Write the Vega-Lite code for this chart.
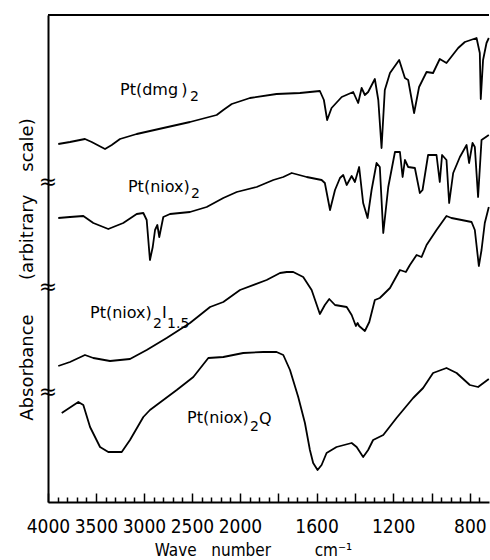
{
  "$schema": "https://vega.github.io/schema/vega-lite/v6.json",
  "autosize": {"type": "none"},
  "width": 441,
  "height": 487,
  "padding": {"left": 48, "top": 15, "right": 1, "bottom": 58},
  "background": "white",
  "config": {
    "view": {"stroke": null},
    "axis": {"grid": false, "domainColor": "black", "domainWidth": 2, "titleFontWeight": "normal", "titleColor": "black", "labelColor": "black", "tickColor": "black"},
    "axisX": {
      "tickWidth": 1.5, "tickCount": 100,
      "labelFont": "Liberation Sans Narrow, DejaVu Sans Condensed, DejaVu Sans",
      "labelFontSize": 19, "labelPadding": 24,
      "labelBaseline": "top", "labelFlush": false, "labelOverlap": false, "labelBound": false,
      "titleFont": "DejaVu Sans Condensed, DejaVu Sans", "titleFontSize": 17,
      "titleX": 205, "titleY": 40, "titleBaseline": "top", "titleAlign": "center"
    },
    "axisY": {
      "ticks": false, "labels": false,
      "titleFont": "DejaVu Sans", "titleFontSize": 18,
      "titlePadding": 12, "titleY": 254, "titleAlign": "center"
    }
  },
  "datasets": {
    "spectra": [
      {"s":"dmg","wn":3893,"v":3.58},{"s":"dmg","wn":3771,"v":3.60},{"s":"dmg","wn":3615,"v":3.63},{"s":"dmg","wn":3545,"v":3.60},{"s":"dmg","wn":3406,"v":3.53},{"s":"dmg","wn":3336,"v":3.57},{"s":"dmg","wn":3250,"v":3.63},{"s":"dmg","wn":3076,"v":3.68},{"s":"dmg","wn":2799,"v":3.74},{"s":"dmg","wn":2521,"v":3.80},{"s":"dmg","wn":2243,"v":3.87},{"s":"dmg","wn":2174,"v":3.92},{"s":"dmg","wn":2086,"v":3.98},{"s":"dmg","wn":1948,"v":4.04},{"s":"dmg","wn":1809,"v":4.08},{"s":"dmg","wn":1687,"v":4.09},{"s":"dmg","wn":1583,"v":4.11},{"s":"dmg","wn":1562,"v":4.02},{"s":"dmg","wn":1545,"v":3.82},{"s":"dmg","wn":1522,"v":3.94},{"s":"dmg","wn":1469,"v":4.05},{"s":"dmg","wn":1409,"v":4.10},{"s":"dmg","wn":1383,"v":3.99},{"s":"dmg","wn":1365,"v":4.14},{"s":"dmg","wn":1348,"v":4.07},{"s":"dmg","wn":1331,"v":4.10},{"s":"dmg","wn":1296,"v":4.23},{"s":"dmg","wn":1278,"v":4.02},{"s":"dmg","wn":1261,"v":3.54},{"s":"dmg","wn":1244,"v":4.12},{"s":"dmg","wn":1217,"v":4.29},{"s":"dmg","wn":1169,"v":4.42},{"s":"dmg","wn":1139,"v":4.24},{"s":"dmg","wn":1122,"v":4.22},{"s":"dmg","wn":1091,"v":3.89},{"s":"dmg","wn":1065,"v":4.15},{"s":"dmg","wn":1026,"v":4.30},{"s":"dmg","wn":992,"v":4.29},{"s":"dmg","wn":957,"v":4.43},{"s":"dmg","wn":922,"v":4.39},{"s":"dmg","wn":861,"v":4.54},{"s":"dmg","wn":826,"v":4.60},{"s":"dmg","wn":765,"v":4.64},{"s":"dmg","wn":748,"v":4.49},{"s":"dmg","wn":743,"v":4.03},{"s":"dmg","wn":731,"v":4.42},{"s":"dmg","wn":713,"v":4.59},{"s":"dmg","wn":701,"v":4.64},
      {"s":"niox","wn":3893,"v":2.84},{"s":"niox","wn":3771,"v":2.85},{"s":"niox","wn":3632,"v":2.86},{"s":"niox","wn":3528,"v":2.79},{"s":"niox","wn":3372,"v":2.73},{"s":"niox","wn":3216,"v":2.79},{"s":"niox","wn":3076,"v":2.88},{"s":"niox","wn":3007,"v":2.89},{"s":"niox","wn":2972,"v":2.82},{"s":"niox","wn":2938,"v":2.42},{"s":"niox","wn":2909,"v":2.55},{"s":"niox","wn":2885,"v":2.72},{"s":"niox","wn":2861,"v":2.77},{"s":"niox","wn":2841,"v":2.65},{"s":"niox","wn":2799,"v":2.85},{"s":"niox","wn":2729,"v":2.88},{"s":"niox","wn":2521,"v":2.90},{"s":"niox","wn":2347,"v":2.95},{"s":"niox","wn":2174,"v":3.04},{"s":"niox","wn":2034,"v":3.10},{"s":"niox","wn":1913,"v":3.15},{"s":"niox","wn":1826,"v":3.22},{"s":"niox","wn":1774,"v":3.25},{"s":"niox","wn":1730,"v":3.29},{"s":"niox","wn":1652,"v":3.25},{"s":"niox","wn":1574,"v":3.22},{"s":"niox","wn":1557,"v":3.19},{"s":"niox","wn":1530,"v":2.92},{"s":"niox","wn":1504,"v":3.12},{"s":"niox","wn":1478,"v":3.24},{"s":"niox","wn":1461,"v":3.27},{"s":"niox","wn":1443,"v":3.17},{"s":"niox","wn":1417,"v":3.26},{"s":"niox","wn":1400,"v":3.20},{"s":"niox","wn":1378,"v":3.35},{"s":"niox","wn":1357,"v":2.99},{"s":"niox","wn":1334,"v":2.84},{"s":"niox","wn":1313,"v":3.12},{"s":"niox","wn":1287,"v":3.39},{"s":"niox","wn":1270,"v":3.35},{"s":"niox","wn":1252,"v":2.69},{"s":"niox","wn":1226,"v":3.15},{"s":"niox","wn":1191,"v":3.50},{"s":"niox","wn":1165,"v":3.50},{"s":"niox","wn":1151,"v":3.25},{"s":"niox","wn":1139,"v":3.42},{"s":"niox","wn":1122,"v":3.35},{"s":"niox","wn":1087,"v":3.34},{"s":"niox","wn":1061,"v":3.09},{"s":"niox","wn":1047,"v":3.12},{"s":"niox","wn":1018,"v":3.47},{"s":"niox","wn":974,"v":3.47},{"s":"niox","wn":957,"v":3.20},{"s":"niox","wn":945,"v":3.47},{"s":"niox","wn":922,"v":3.42},{"s":"niox","wn":908,"v":2.99},{"s":"niox","wn":887,"v":3.29},{"s":"niox","wn":852,"v":3.45},{"s":"niox","wn":817,"v":3.57},{"s":"niox","wn":804,"v":3.39},{"s":"niox","wn":786,"v":3.59},{"s":"niox","wn":774,"v":3.55},{"s":"niox","wn":757,"v":3.05},{"s":"niox","wn":739,"v":3.62},{"s":"niox","wn":701,"v":3.67},
      {"s":"I","wn":3893,"v":1.36},{"s":"I","wn":3771,"v":1.40},{"s":"I","wn":3615,"v":1.47},{"s":"I","wn":3528,"v":1.44},{"s":"I","wn":3354,"v":1.41},{"s":"I","wn":3146,"v":1.43},{"s":"I","wn":2972,"v":1.52},{"s":"I","wn":2764,"v":1.64},{"s":"I","wn":2521,"v":1.79},{"s":"I","wn":2312,"v":1.95},{"s":"I","wn":2174,"v":2.00},{"s":"I","wn":2000,"v":2.12},{"s":"I","wn":1861,"v":2.22},{"s":"I","wn":1791,"v":2.29},{"s":"I","wn":1756,"v":2.30},{"s":"I","wn":1722,"v":2.30},{"s":"I","wn":1670,"v":2.25},{"s":"I","wn":1626,"v":2.12},{"s":"I","wn":1583,"v":1.88},{"s":"I","wn":1557,"v":1.97},{"s":"I","wn":1534,"v":2.03},{"s":"I","wn":1504,"v":1.97},{"s":"I","wn":1443,"v":1.95},{"s":"I","wn":1417,"v":1.87},{"s":"I","wn":1395,"v":1.76},{"s":"I","wn":1386,"v":1.79},{"s":"I","wn":1378,"v":1.76},{"s":"I","wn":1348,"v":1.71},{"s":"I","wn":1325,"v":1.80},{"s":"I","wn":1296,"v":2.02},{"s":"I","wn":1270,"v":2.04},{"s":"I","wn":1217,"v":2.14},{"s":"I","wn":1165,"v":2.32},{"s":"I","wn":1134,"v":2.30},{"s":"I","wn":1113,"v":2.37},{"s":"I","wn":1078,"v":2.47},{"s":"I","wn":1052,"v":2.45},{"s":"I","wn":1026,"v":2.57},{"s":"I","wn":974,"v":2.72},{"s":"I","wn":922,"v":2.86},{"s":"I","wn":896,"v":2.84},{"s":"I","wn":843,"v":2.82},{"s":"I","wn":791,"v":2.80},{"s":"I","wn":774,"v":2.72},{"s":"I","wn":753,"v":2.36},{"s":"I","wn":739,"v":2.52},{"s":"I","wn":722,"v":2.79},{"s":"I","wn":701,"v":2.95},
      {"s":"Q","wn":3857,"v":0.89},{"s":"Q","wn":3684,"v":1.00},{"s":"Q","wn":3632,"v":0.97},{"s":"Q","wn":3562,"v":0.75},{"s":"Q","wn":3458,"v":0.55},{"s":"Q","wn":3372,"v":0.50},{"s":"Q","wn":3232,"v":0.50},{"s":"Q","wn":3146,"v":0.62},{"s":"Q","wn":3007,"v":0.85},{"s":"Q","wn":2938,"v":0.92},{"s":"Q","wn":2659,"v":1.12},{"s":"Q","wn":2486,"v":1.25},{"s":"Q","wn":2330,"v":1.44},{"s":"Q","wn":2174,"v":1.45},{"s":"Q","wn":1983,"v":1.49},{"s":"Q","wn":1878,"v":1.50},{"s":"Q","wn":1809,"v":1.50},{"s":"Q","wn":1774,"v":1.47},{"s":"Q","wn":1739,"v":1.32},{"s":"Q","wn":1696,"v":1.05},{"s":"Q","wn":1661,"v":0.79},{"s":"Q","wn":1635,"v":0.52},{"s":"Q","wn":1618,"v":0.39},{"s":"Q","wn":1595,"v":0.32},{"s":"Q","wn":1574,"v":0.37},{"s":"Q","wn":1548,"v":0.49},{"s":"Q","wn":1496,"v":0.55},{"s":"Q","wn":1417,"v":0.59},{"s":"Q","wn":1391,"v":0.55},{"s":"Q","wn":1357,"v":0.45},{"s":"Q","wn":1331,"v":0.52},{"s":"Q","wn":1305,"v":0.62},{"s":"Q","wn":1252,"v":0.67},{"s":"Q","wn":1183,"v":0.84},{"s":"Q","wn":1096,"v":1.04},{"s":"Q","wn":1044,"v":1.14},{"s":"Q","wn":992,"v":1.29},{"s":"Q","wn":922,"v":1.34},{"s":"Q","wn":869,"v":1.29},{"s":"Q","wn":800,"v":1.17},{"s":"Q","wn":757,"v":1.15},{"s":"Q","wn":701,"v":1.23}
    ],
    "labels": [
      {"wn":3250,"v":4.07,"t":"Pt(dmg\u2009)"},
      {"wn":3167,"v":3.10,"t":"Pt(niox)"},
      {"wn":3562,"v":1.84,"t":"Pt(niox)"},
      {"wn":2812,"v":1.84,"t":"I"},
      {"wn":2552,"v":0.79,"t":"Pt(niox)"},
      {"wn":1901,"v":0.78,"t":"Q"}
    ],
    "subs": [
      {"wn":2521,"v":4.01,"t":"2"},
      {"wn":2510,"v":3.04,"t":"2"},
      {"wn":2906,"v":1.74,"t":"2"},
      {"wn":2760,"v":1.74,"t":"1.5"},
      {"wn":1948,"v":0.71,"t":"2"}
    ],
    "breaks": [{"wn":4000,"v":3.20},{"wn":4000,"v":2.15},{"wn":4000,"v":1.10}],
    "top": [{"v":4.87}]
  },
  "layer": [
    {
      "data": {"name": "spectra"},
      "mark": {"type": "line", "color": "black", "strokeWidth": 1.8, "strokeJoin": "round"},
      "encoding": {
        "x": {"field": "wn", "type": "quantitative",
          "scale": {"domain": [4000, 2000, 700], "range": [0, 192, 441], "zero": false, "nice": false},
          "axis": {
            "title": "Wave\u00a0\u00a0\u00a0number\u00a0\u00a0\u00a0\u00a0\u00a0\u00a0\u00a0\u00a0\u00a0cm\u207b\u00b9",
            "values": [4000,3900,3800,3700,3600,3500,3400,3300,3200,3100,3000,2900,2800,2700,2600,2500,2400,2300,2200,2100,2000,1950,1900,1850,1800,1750,1700,1650,1600,1550,1500,1450,1400,1350,1300,1250,1200,1150,1100,1050,1000,950,900,850,800,750],
            "tickCount": 100,
            "tickSize": {"condition": {"test": "indexof([4000,3500,3000,2500,2000,1800,1600,1400,1200,1000,800], datum.value) >= 0", "value": -9}, "value": -5},
            "labelExpr": "indexof([4000,3500,3000,2500,2000,1600,1200,800], datum.value) >= 0 ? '' + datum.value : ''",
            "labelOverlap": false
          }
        },
        "y": {"field": "v", "type": "quantitative",
          "scale": {"domain": [0, 4.87], "zero": false, "nice": false},
          "axis": {
            "title": "Absorbance\u00a0\u00a0\u00a0\u00a0\u00a0\u00a0(arbitrary\u00a0\u00a0\u00a0\u00a0scale)"
          }
        },
        "detail": {"field": "s", "type": "nominal"}
      }
    },
    {
      "data": {"name": "top"},
      "mark": {"type": "rule", "color": "black", "strokeWidth": 2},
      "encoding": {"y": {"field": "v", "type": "quantitative"}}
    },
    {
      "data": {"name": "labels"},
      "mark": {"type": "text", "align": "left", "baseline": "alphabetic", "font": "DejaVu Sans", "fontSize": 16, "color": "black"},
      "encoding": {
        "x": {"field": "wn", "type": "quantitative"},
        "y": {"field": "v", "type": "quantitative"},
        "text": {"field": "t"}
      }
    },
    {
      "data": {"name": "subs"},
      "mark": {"type": "text", "align": "left", "baseline": "alphabetic", "font": "DejaVu Sans", "fontSize": 14, "color": "black"},
      "encoding": {
        "x": {"field": "wn", "type": "quantitative"},
        "y": {"field": "v", "type": "quantitative"},
        "text": {"field": "t"}
      }
    },
    {
      "data": {"name": "breaks"},
      "mark": {"type": "text", "text": "\u2248", "align": "center", "baseline": "middle", "font": "DejaVu Sans", "fontSize": 22, "color": "black"},
      "encoding": {
        "x": {"field": "wn", "type": "quantitative"},
        "y": {"field": "v", "type": "quantitative"}
      }
    }
  ]
}
